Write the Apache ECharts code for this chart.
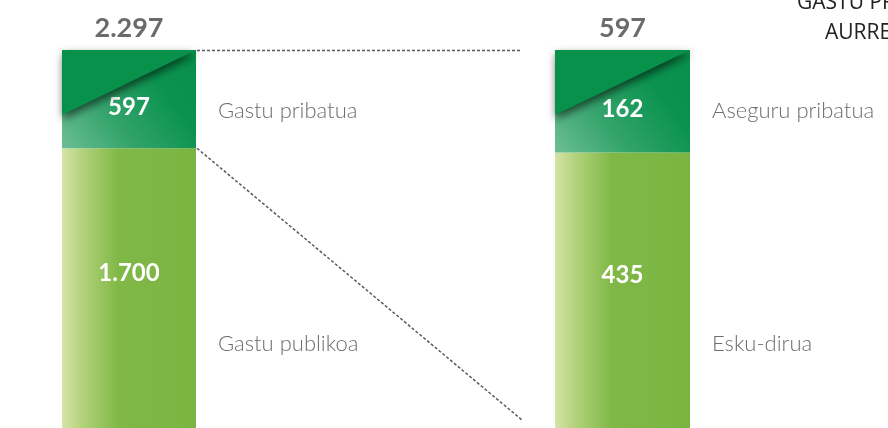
<!DOCTYPE html>
<html>
<head>
<meta charset="utf-8">
<title>Gastu pribatua</title>
<script src="https://cdn.jsdelivr.net/npm/echarts@6/dist/echarts.min.js"></script>
<style>
	html,body{margin:0;padding:0;background:#fff;}
	#chart{width:888px;height:428px;}
</style>
</head>
<body>
<div id="chart"></div>
<script>
//1. datuak
var categories = ['Gastu osoa', 'Gastu pribatua'];
var lowerNames = ['Gastu publikoa', 'Esku-dirua'];
var upperNames = ['Gastu pribatua', 'Aseguru pribatua'];
var lowerValues = [1700, 435];
var upperValues = [597, 162];
var titleLines = ['GASTU PRIBATUAREN', 'AURREKONTUA'];

//2. kokapena
var grids = [
	{left: 62, top: 50, width: 134, height: 382},
	{left: 555, top: 50, width: 135, height: 382}
];

//zenbakiak 1.700 erara
function fmt(v){
	return String(v).replace(/\B(?=(\d{3})+(?!\d))/g, '.');
}

var lowerColor = new echarts.graphic.LinearGradient(0, 0, 1, 0, [
	{offset: 0, color: '#d5e4a8'},
	{offset: 0.15, color: '#b3d27c'},
	{offset: 0.42, color: '#80b847'},
	{offset: 1, color: '#7ab541'}
]);
var upperColor = new echarts.graphic.LinearGradient(0, 1, 1, 0, [
	{offset: 0, color: '#6cbe94'},
	{offset: 0.35, color: '#33a36b'},
	{offset: 0.7, color: '#0b934e'},
	{offset: 1, color: '#07904a'}
]);

var textFont = 'Lato, "Open Sans", sans-serif';

//triangelua, izenak eta guztizkoa
function renderDeco(params, api){
	var c = api.value(0);
	var lower = api.value(1);
	var upper = api.value(2);
	var gi = api.value(3);
	var top = api.coord([c, lower + upper]);
	var bottom = api.coord([c, 0]);
	var w = api.size([1, 0])[0];
	var x0 = top[0] - w / 2;
	var x1 = top[0] + w / 2;
	var drop = 65;
	return {
		type: 'group',
		children: [
			{
				type: 'polygon',
				shape: {points: [[x0, top[1]], [x1, top[1]], [x0, top[1] + drop]]},
				style: {
					fill: '#08914b',
					shadowBlur: 9,
					shadowColor: 'rgba(0,0,0,0.6)',
					shadowOffsetX: 1,
					shadowOffsetY: 4
				}
			},
			{
				type: 'text',
				x: top[0], y: top[1] - 22,
				style: {text: fmt(lower + upper), fill: '#6b6b6b', font: 'bold 27px ' + textFont, align: 'center', verticalAlign: 'middle'}
			},
			{
				type: 'text',
				x: x1 + 22, y: top[1] + 61,
				style: {text: upperNames[gi], fill: '#6e6e6e', font: '300 22px ' + textFont, align: 'left', verticalAlign: 'middle'}
			},
			{
				type: 'text',
				x: x1 + 22, y: bottom[1] - 84,
				style: {text: lowerNames[gi], fill: '#6e6e6e', font: '300 22px ' + textFont, align: 'left', verticalAlign: 'middle'}
			}
		]
	};
}

var option = {
	animation: false,
	grid: grids,
	xAxis: grids.map(function(g, i){
		return {type: 'category', gridIndex: i, data: [categories[i]], show: false};
	}),
	yAxis: grids.map(function(g, i){
		return {type: 'value', gridIndex: i, min: 0, max: lowerValues[i] + upperValues[i], show: false};
	}),
	series: []
};

for(var i = 0; i < categories.length; i++){
	option.series.push({
		type: 'bar', name: lowerNames[i], xAxisIndex: i, yAxisIndex: i, stack: 's' + i,
		barWidth: '100%', data: [lowerValues[i]],
		itemStyle: {color: lowerColor},
		label: {show: true, position: 'inside', offset: [0, -15], formatter: function(p){ return fmt(p.value); },
			color: '#fff', fontWeight: 'bold', fontSize: 24, fontFamily: 'Lato'}
	});
	option.series.push({
		type: 'bar', name: upperNames[i], xAxisIndex: i, yAxisIndex: i, stack: 's' + i,
		barWidth: '100%', data: [upperValues[i]],
		itemStyle: {color: upperColor},
		label: {show: true, position: 'inside', offset: [0, 8], formatter: function(p){ return fmt(p.value); },
			color: '#fff', fontWeight: 'bold', fontSize: 24, fontFamily: 'Lato'}
	});
	option.series.push({
		type: 'custom', xAxisIndex: i, yAxisIndex: i, z: 3,
		renderItem: renderDeco,
		data: [[0, lowerValues[i], upperValues[i], i]]
	});
}

var chart = echarts.init(document.getElementById('chart'));
chart.setOption(option);

//marra etenak eta izenburua
var L = grids[0], R = grids[1];
var topY = chart.convertToPixel({xAxisIndex: 0, yAxisIndex: 0}, [0, lowerValues[0] + upperValues[0]])[1];
var splitY = chart.convertToPixel({xAxisIndex: 0, yAxisIndex: 0}, [0, lowerValues[0]])[1];
var xa = L.left + L.width + 1;
var xb = R.left - 33;
var dash = {stroke: '#5a5a5a', lineWidth: 1.5, lineDash: [3, 2]};
var titleFont = '21px "Open Sans", sans-serif';
chart.setOption({
	graphic: [
		{type: 'line', shape: {x1: xa, y1: topY + 0.5, x2: xb, y2: topY + 0.5}, style: dash},
		{type: 'line', shape: {x1: xa, y1: splitY, x2: xb, y2: 420}, style: dash},
		{type: 'text', x: 797, y: 3, style: {text: titleLines[0], fill: '#222', font: titleFont, verticalAlign: 'middle'}},
		{type: 'text', x: 825, y: 33, style: {text: titleLines[1], fill: '#222', font: titleFont, verticalAlign: 'middle'}}
	]
});
</script>
</body>
</html>
